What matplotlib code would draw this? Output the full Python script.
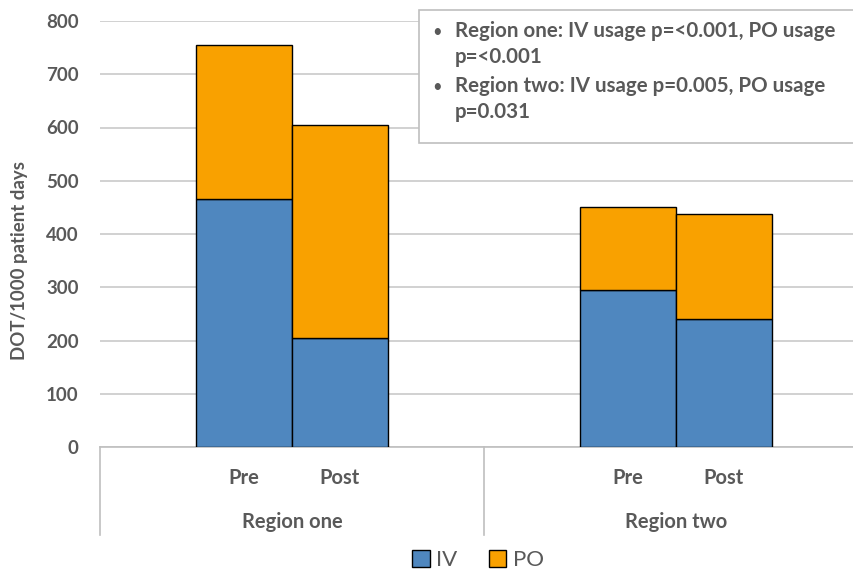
import matplotlib
matplotlib.use("Agg")
import matplotlib.pyplot as plt
from matplotlib.patches import Rectangle, Patch
from matplotlib.lines import Line2D
import matplotlib.transforms as mtransforms

plt.rcParams["font.family"] = ["Lato", "DejaVu Sans"]

# dados (DOT/1000 patient days)
regioes = ["Region one", "Region two"]
periodos = ["Pre", "Post"]
iv = [465, 205, 295, 241]
po_total = [755, 605, 450, 437]
po = [t - i for t, i in zip(po_total, iv)]
notas = [
    "Region one: IV usage p=<0.001, PO usage",
    "p=<0.001",
    "Region two: IV usage p=0.005, PO usage",
    "p=0.031",
]

AZUL = "#4F87BF"
LARANJA = "#F9A100"
CINZA_TXT = "#595959"
CINZA_LINHA = "#C9C9C9"

W, H = 854, 573
fig = plt.figure(figsize=(W / 100, H / 100), dpi=100)
# eixo vai um pouco alem da borda direita, como no original
ax = fig.add_axes([100 / W, (H - 447) / H, 768 / W, 426 / H])

# 8 posicoes: vazio, Pre, Post, vazio por regiao
xs = [1, 2, 5, 6]
ax.bar(xs, iv, width=1.0, color=AZUL, edgecolor="black", linewidth=1.0, zorder=3)
ax.bar(xs, po, bottom=iv, width=1.0, color=LARANJA, edgecolor="black",
       linewidth=1.0, zorder=3)

ax.set_xlim(-0.5, 7.5)
ax.set_ylim(0, 800)
ax.set_yticks(range(0, 801, 100))
ax.set_xticks([])
ax.yaxis.grid(True, color=CINZA_LINHA, linewidth=1.2)
ax.set_axisbelow(True)
for s in ["top", "right", "left"]:
    ax.spines[s].set_visible(False)
ax.spines["bottom"].set_color("#BFBFBF")
ax.spines["bottom"].set_linewidth(1.2)
ax.tick_params(axis="y", length=0, pad=15.5, labelsize=13.5, labelcolor=CINZA_TXT)
for lb in ax.get_yticklabels():
    lb.set_fontweight("bold")

# rotulos de categoria em dois niveis
trans = mtransforms.blended_transform_factory(ax.transData, ax.transAxes)
for x, per in zip(xs, periodos * 2):
    ax.text(x, -0.073, per, transform=trans, ha="center", va="center",
            fontsize=14.5, fontweight="bold", color=CINZA_TXT)
for xc, reg in zip([1.5, 5.5], regioes):
    ax.text(xc, -0.176, reg, transform=trans, ha="center", va="center",
            fontsize=14.5, fontweight="bold", color=CINZA_TXT)
for xd in [-0.5, 3.5, 7.5]:
    ax.add_line(Line2D([xd, xd], [0, -0.207], transform=trans, color="#BFBFBF",
                       linewidth=1.2, clip_on=False))

fig.text(20 / W, 1 - 261 / H, "DOT/1000 patient days", rotation=90,
         ha="center", va="center", fontsize=13.4, fontweight="bold", color=CINZA_TXT)

# caixa com os valores de p
caixa = Rectangle((419 / W, 1 - 143 / H), 460 / W, 133 / H, transform=fig.transFigure,
                  facecolor="white", edgecolor="#BFBFBF", linewidth=1.2, zorder=5)
fig.add_artist(caixa)
ys = [37, 63, 92, 118]
for y, txt in zip(ys, notas):
    if txt.startswith("Region"):
        fig.text(437 / W, 1 - y / H, "\u2022", ha="center", va="baseline",
                 fontsize=12, color=CINZA_TXT, zorder=6)
    fig.text(455 / W, 1 - y / H, txt, ha="left", va="baseline", fontsize=14.8,
             fontweight="bold", color=CINZA_TXT, zorder=6)

handles = [Patch(facecolor=AZUL, edgecolor="black", label="IV"),
           Patch(facecolor=LARANJA, edgecolor="black", label="PO")]
fig.legend(handles=handles, loc="center", bbox_to_anchor=(478 / W, 13 / H), ncol=2,
           frameon=False, fontsize=16, handlelength=0.8, handleheight=0.8,
           handletextpad=0.3, columnspacing=1.4, labelcolor=CINZA_TXT)

fig.savefig("out.png", dpi=100)
